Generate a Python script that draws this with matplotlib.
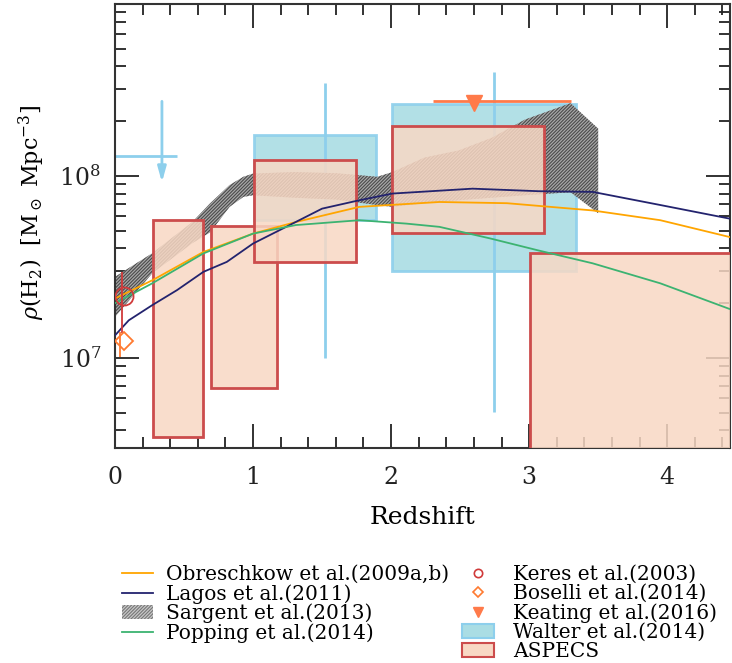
import numpy as np
import matplotlib
matplotlib.use("Agg")
import matplotlib.pyplot as plt
from matplotlib.patches import Rectangle, Patch
from matplotlib.lines import Line2D
from matplotlib.ticker import MultipleLocator, NullFormatter, FixedLocator

plt.rcParams["font.family"] = ["DejaVu Serif"]
plt.rcParams["mathtext.fontset"] = "dejavuserif"
plt.rcParams["hatch.linewidth"] = 0.8

# ---- model curves ----
obr_z = [0, 0.27, 0.64, 1.0, 1.31, 1.77, 2.35, 2.84, 3.46, 3.95, 4.45]
obr_rho = [2.12e7, 2.67e7, 3.82e7, 4.82e7, 5.58e7, 6.76e7, 7.19e7, 7.08e7, 6.46e7, 5.71e7, 4.62e7]

lag_z = [0, 0.1, 0.27, 0.45, 0.64, 0.81, 1.0, 1.24, 1.5, 1.77, 2.01, 2.59, 3.07, 3.46, 3.95, 4.45]
lag_rho = [1.33e7, 1.61e7, 1.95e7, 2.36e7, 2.97e7, 3.37e7, 4.25e7, 5.25e7, 6.61e7, 7.35e7,
           8.0e7, 8.51e7, 8.24e7, 8.17e7, 6.92e7, 5.83e7]

pop_z = [0, 0.27, 0.64, 1.0, 1.31, 1.77, 2.11, 2.35, 2.72, 3.07, 3.46, 3.95, 4.45]
pop_rho = [2.0e7, 2.57e7, 3.75e7, 4.82e7, 5.37e7, 5.71e7, 5.47e7, 5.25e7, 4.53e7, 3.89e7,
           3.31e7, 2.57e7, 1.86e7]

# Sargent et al. band
sar_z = [0, 0.27, 0.56, 0.69, 0.83, 0.93, 1.0, 1.3, 1.6, 1.9, 2.01, 2.24, 2.49, 2.73, 2.97, 3.3, 3.5]
sar_hi = [2.79e7, 3.76e7, 5.58e7, 7.08e7, 8.91e7, 9.89e7, 1.03e8, 1.05e8, 1.035e8, 9.89e7,
          1.05e8, 1.26e8, 1.38e8, 1.62e8, 2.04e8, 2.51e8, 1.82e8]
sar_lo = [1.68e7, 2.92e7, 4.27e7, 4.90e7, 6.76e7, 7.67e7, 7.83e7, 7.59e7, 7.41e7, 6.92e7,
          6.76e7, 7.08e7, 7.35e7, 7.59e7, 7.83e7, 8.13e7, 6.24e7]

# ---- observations ----
walter_zlo = [1.005, 2.005]
walter_zhi = [1.894, 3.343]
walter_lo = [5.7e7, 3.0e7]
walter_hi = [1.68e8, 2.48e8]
walter_zc = [1.52, 2.749]
walter_err_lo = [1.0e7, 5.05e6]
walter_err_hi = [3.25e8, 3.73e8]
# upper limit at low z
wlim_z = 0.34
wlim_zlo, wlim_zhi = 0.0, 0.449
wlim_val = 1.29e8
wlim_top, wlim_tip = 2.66e8, 8.9e7

aspecs_zlo = [0.273, 0.696, 1.005, 2.005, 3.005]
aspecs_zhi = [0.636, 1.177, 1.744, 3.109, 4.8]
aspecs_lo = [3.66e6, 6.8e6, 3.37e7, 4.86e7, 2.0e6]
aspecs_hi = [5.7e7, 5.3e7, 1.22e8, 1.87e8, 3.78e7]

keres_z, keres_rho = 0.065, 2.18e7
keres_err_z, keres_err = 0.053, [1.37e7, 2.97e7]
boselli_z, boselli_rho = 0.065, 1.24e7
boselli_err_z, boselli_err = 0.035, [1.01e7, 1.39e7]
keating_z, keating_rho = 2.6, 2.5e8
keating_zrange, keating_bar = [2.3, 3.3], 2.57e8

c_obr = "#ffa500"
c_lag = "#23236e"
c_pop = "#3cb371"
c_wal_face = "#aadde4"
c_wal_edge = "#8dcfec"
c_asp_face = "#f8d8c4"
c_asp_edge = "#cc4c4c"
c_kea = "#ff7a4a"

fig = plt.figure(figsize=(7.32, 6.63), dpi=100)
ax = fig.add_axes([115 / 732, 1 - 448 / 663, 615 / 732, 444 / 663])
ax.set_yscale("log")

# Walter boxes + error bars
for x0, x1, y0, y1 in zip(walter_zlo, walter_zhi, walter_lo, walter_hi):
    ax.add_patch(Rectangle((x0, y0), x1 - x0, y1 - y0, facecolor=c_wal_face,
                           edgecolor=c_wal_edge, lw=2, alpha=0.9, zorder=1))
ax.vlines(walter_zc, walter_err_lo, walter_err_hi, color=c_wal_edge, lw=2, zorder=1)
ax.hlines(wlim_val, wlim_zlo, wlim_zhi, color=c_wal_edge, lw=2, zorder=1)
ax.annotate("", xy=(wlim_z, wlim_tip), xytext=(wlim_z, wlim_top),
            arrowprops=dict(arrowstyle="-|>,head_length=0.9,head_width=0.25",
                            color=c_wal_edge, lw=2), zorder=1)

# Sargent band
ax.fill_between(sar_z, sar_lo, sar_hi, facecolor="#a8a8a8", edgecolor="#4a4a4a",
                hatch="//////////", lw=0, zorder=2)

# ASPECS boxes
for x0, x1, y0, y1 in zip(aspecs_zlo, aspecs_zhi, aspecs_lo, aspecs_hi):
    ax.add_patch(Rectangle((x0, y0), x1 - x0, y1 - y0, facecolor=c_asp_face,
                           edgecolor="none", alpha=0.85, zorder=3))
    ax.add_patch(Rectangle((x0, y0), x1 - x0, y1 - y0, facecolor="none",
                           edgecolor=c_asp_edge, lw=2, zorder=3))

# models
ax.plot(obr_z, obr_rho, color=c_obr, lw=1.3, zorder=4)
ax.plot(lag_z, lag_rho, color=c_lag, lw=1.3, zorder=4)
ax.plot(pop_z, pop_rho, color=c_pop, lw=1.3, zorder=4)

# points
ax.vlines(keres_err_z, *keres_err, color="#d03a3a", lw=1.3, zorder=5)
ax.plot(keres_z, keres_rho, "o", mfc="none", mec="#d03a3a", ms=13, mew=1.3, zorder=5)
ax.vlines(boselli_err_z, *boselli_err, color="#ff7a30", lw=1.3, zorder=5)
ax.plot(boselli_z, boselli_rho, "D", mfc="none", mec="#ff7a30", ms=9, mew=1.3, zorder=5)
ax.hlines(keating_bar, *keating_zrange, color=c_kea, lw=2, zorder=5)
ax.plot(keating_z, keating_rho, "v", color=c_kea, ms=12, zorder=5)

ax.set_xlim(0, 4.455)
ax.set_ylim(3.2e6, 8.8e8)

ax.xaxis.set_major_locator(MultipleLocator(1))
ax.xaxis.set_minor_locator(MultipleLocator(0.2))
ax.yaxis.set_major_locator(FixedLocator([1e7, 1e8]))
ax.set_yticklabels([r"$10^7$", r"$10^8$"])
ax.yaxis.set_minor_formatter(NullFormatter())
ax.tick_params(which="both", direction="in", top=True, right=True,
               labelsize=17, colors="#222222")
ax.tick_params(axis="x", pad=13)
ax.tick_params(axis="y", pad=10)
ax.tick_params(which="major", length=17, width=1.3)
ax.tick_params(which="minor", length=8, width=1.3)
for s in ax.spines.values():
    s.set_linewidth(1.5)
    s.set_color("#333333")

ax.set_xlabel("Redshift", fontsize=18, labelpad=12)
ax.set_ylabel(r"$\rho(\mathrm{H_2})$  [M$_\odot$ Mpc$^{-3}$]", fontsize=16)
ax.yaxis.set_label_coords(-0.11, 0.53)

# legends
left_handles = [
    Line2D([], [], color=c_obr, lw=1.3),
    Line2D([], [], color=c_lag, lw=1.3),
    Patch(facecolor="#c8c8c8", edgecolor="#777777", hatch="//////////", lw=0),
    Line2D([], [], color=c_pop, lw=1.3),
]
left_labels = ["Obreschkow et al.(2009a,b)", "Lagos et al.(2011)",
               "Sargent et al.(2013)", "Popping et al.(2014)"]
right_handles = [
    Line2D([], [], ls="none", marker="o", mfc="none", mec="#d03a3a", ms=6, mew=1.2),
    Line2D([], [], ls="none", marker="D", mfc="none", mec="#ff7a30", ms=5, mew=1.2),
    Line2D([], [], ls="none", marker="v", color=c_kea, ms=7),
    Patch(facecolor=c_wal_face, edgecolor=c_wal_edge, lw=1.5),
    Patch(facecolor=c_asp_face, edgecolor=c_asp_edge, lw=1.5),
]
right_labels = ["Keres et al.(2003)", "Boselli et al.(2014)", "Keating et al.(2016)",
                "Walter et al.(2014)", "ASPECS"]

kw = dict(frameon=False, fontsize=14.5, labelspacing=0.0, borderaxespad=0, loc="upper left")
fig.legend(left_handles, left_labels, bbox_to_anchor=(114 / 732, 1 - 557 / 663),
           handlelength=1.55, handletextpad=0.65, **kw)
fig.legend(right_handles, right_labels, bbox_to_anchor=(454 / 732, 1 - 557 / 663),
           handlelength=1.6, handletextpad=0.95, **kw)

fig.savefig("out.png", dpi=100)
